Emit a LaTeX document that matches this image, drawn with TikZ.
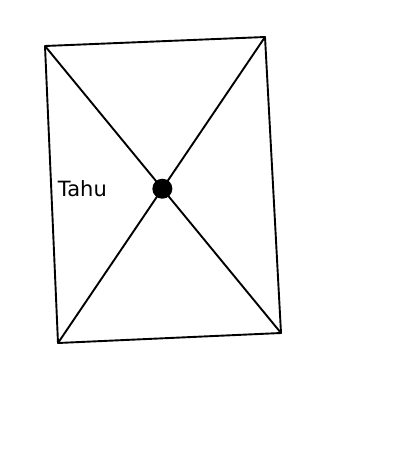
\documentclass[tikz,border=0pt]{standalone}
\usepackage{fontspec}
\newfontfamily\handfont{DejaVu Sans}
\usetikzlibrary{calc}
\begin{document}
\begin{tikzpicture}[line cap=round, line join=round, x=1pt, y=-1pt, line width=1.9pt]
			\tikzset{dot style/.style={circle, fill=black, inner sep=0pt, minimum size=20pt},
				label style/.style={font=\handfont\fontsize{21}{24}\selectfont, inner sep=0pt}}
			\useasboundingbox (0,0) rectangle (420,450);
			\coordinate (tl) at (45,46);
			\coordinate (tr) at (265,37);
			\coordinate (br) at (281,333);
			\coordinate (bl) at (58,343);
			\draw (tl)--(tr)--(br)--(bl)--cycle;
			\draw (tl)--(br);
			\draw (tr)--(bl);
			\node[dot style] (centre) at (intersection of tl--br and tr--bl) {};
			\node[label style, anchor=west] (tahu) at (57,189) {Tahu};
		\end{tikzpicture}
\end{document}
